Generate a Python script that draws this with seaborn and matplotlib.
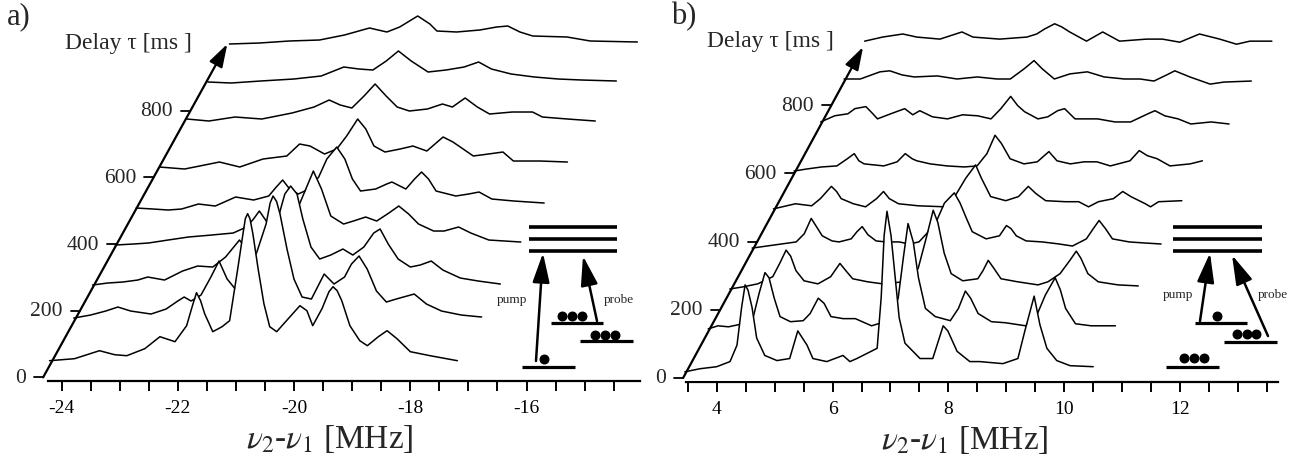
import numpy as np
import matplotlib
matplotlib.use("Agg")
import matplotlib.pyplot as plt
import seaborn as sns
from matplotlib.patches import FancyArrowPatch

# ---------------- data ----------------
# delays (ms) of the spectra, front to back
delays_a = [50, 178, 277, 397, 508, 631, 775, 886, 1000]
delays_b = [18, 144, 261, 381, 496, 607, 751, 877, 988]

# spectra: (frequency of front trace frame [MHz], signal [ms-equivalent units])
a0 = [(-24.21,0),(-23.78,6),(-23.35,30),(-23.09,18),(-22.88,15),(-22.57,36),(-22.31,72),(-22.05,57),(-21.85,105),(-21.75,165),(-21.68,204),(-21.61,180),(-21.54,141),(-21.40,87),(-21.24,102),(-21.11,120),(-20.97,276),(-20.88,381),(-20.84,426),(-20.80,441),(-20.76,426),(-20.71,381),(-20.62,276),(-20.52,171),(-20.42,102),(-20.30,87),(-20.07,132),(-19.90,165),(-19.78,150),(-19.68,105),(-19.52,156),(-19.40,207),(-19.33,222),(-19.26,210),(-19.18,180),(-19.04,105),(-18.87,60),(-18.74,45),(-18.55,72),(-18.40,90),(-18.23,66),(-18.00,27),(-17.66,15),(-17.19,0)]
a1 = [(-24.21,0),(-23.92,9),(-23.66,21),(-23.45,33),(-23.23,21),(-22.88,12),(-22.62,27),(-22.42,51),(-22.31,63),(-22.19,51),(-22.02,69),(-21.85,123),(-21.71,171),(-21.57,117),(-21.43,87),(-21.24,111),(-21.07,192),(-20.90,282),(-20.83,345),(-20.78,366),(-20.72,350),(-20.66,312),(-20.54,207),(-20.42,117),(-20.28,63),(-20.12,57),(-19.90,132),(-19.73,102),(-19.55,123),(-19.43,162),(-19.30,186),(-19.16,147),(-19.00,81),(-18.83,48),(-18.66,57),(-18.35,72),(-18.14,42),(-17.88,21),(-17.54,9),(-17.19,3)]
a2 = [(-24.21,0),(-23.95,6),(-23.69,9),(-23.43,15),(-23.26,24),(-22.97,15),(-22.66,42),(-22.40,57),(-22.14,54),(-21.92,84),(-21.68,135),(-21.50,93),(-21.33,72),(-21.16,114),(-21.02,198),(-20.90,273),(-20.80,297),(-20.69,273),(-20.59,198),(-20.45,114),(-20.30,78),(-20.11,90),(-19.90,108),(-19.73,90),(-19.54,114),(-19.37,156),(-19.26,168),(-19.12,123),(-18.95,78),(-18.74,54),(-18.57,60),(-18.38,72),(-18.18,45),(-17.88,21),(-17.57,12),(-17.19,3)]
a3 = [(-24.21,0),(-23.90,3),(-23.64,6),(-23.30,15),(-22.95,24),(-22.55,30),(-22.18,36),(-21.95,54),(-21.83,78),(-21.73,102),(-21.61,72),(-21.47,42),(-21.28,48),(-21.11,93),(-20.93,168),(-20.80,222),(-20.66,168),(-20.50,87),(-20.28,63),(-20.11,72),(-19.90,84),(-19.71,72),(-19.50,96),(-19.33,117),(-19.16,93),(-18.99,63),(-18.73,42),(-18.55,42),(-18.30,54),(-18.09,36),(-17.78,15),(-17.23,9)]
a4 = [(-24.21,0),(-23.92,-3),(-23.66,-6),(-23.43,-3),(-23.14,12),(-22.85,6),(-22.50,33),(-22.19,24),(-21.93,36),(-21.80,63),(-21.69,84),(-21.57,57),(-21.42,42),(-21.24,57),(-21.07,93),(-20.93,147),(-20.76,183),(-20.62,147),(-20.49,87),(-20.35,51),(-20.09,57),(-19.90,72),(-19.81,78),(-19.57,57),(-19.42,87),(-19.30,108),(-19.18,87),(-19.05,51),(-18.71,36),(-18.49,42),(-18.31,48),(-18.09,27),(-17.71,21),(-17.19,15)]
a5 = [(-24.21,0),(-23.78,-6),(-23.52,3),(-23.18,15),(-22.83,0),(-22.43,24),(-22.02,33),(-21.80,69),(-21.62,63),(-21.37,39),(-21.16,54),(-20.99,93),(-20.80,144),(-20.66,114),(-20.52,63),(-20.33,45),(-20.07,54),(-19.85,63),(-19.61,48),(-19.33,90),(-19.16,75),(-18.81,33),(-18.55,39),(-18.30,45),(-18.12,18),(-17.66,18),(-17.19,15)]
a6 = [(-24.21,0),(-23.83,-6),(-23.38,6),(-22.92,0),(-22.40,18),(-22.02,36),(-21.76,57),(-21.57,42),(-21.37,33),(-21.16,69),(-20.97,105),(-20.78,69),(-20.59,36),(-20.38,24),(-20.07,30),(-19.81,45),(-19.64,36),(-19.42,63),(-19.21,36),(-19.00,15),(-18.61,21),(-18.26,21),(-18.09,6),(-17.66,0),(-17.18,-6)]
a7 = [(-24.21,0),(-23.81,-3),(-23.30,3),(-22.73,9),(-22.26,18),(-21.87,45),(-21.61,39),(-21.37,36),(-21.14,63),(-20.93,93),(-20.71,63),(-20.42,30),(-20.11,36),(-19.80,45),(-19.55,60),(-19.33,39),(-18.99,24),(-18.59,15),(-18.18,9),(-17.78,6),(-17.18,3)]
a8 = [(-24.21,0),(-23.69,3),(-23.18,9),(-22.66,12),(-22.23,27),(-21.80,48),(-21.50,36),(-21.28,51),(-20.97,84),(-20.76,60),(-20.64,39),(-20.30,36),(-19.90,42),(-19.61,51),(-19.42,54),(-19.21,36),(-18.99,24),(-18.40,21),(-18.00,9),(-17.19,6)]

b0 = [(3.45,0),(3.71,9),(4.00,15),(4.23,30),(4.35,78),(4.43,189),(4.49,255),(4.54,240),(4.61,189),(4.69,99),(4.83,48),(5.04,33),(5.26,39),(5.40,120),(5.56,78),(5.66,39),(5.90,30),(6.18,48),(6.30,30),(6.42,39),(6.77,69),(6.84,219),(6.89,399),(6.94,471),(7.01,399),(7.08,279),(7.15,159),(7.25,84),(7.51,39),(7.73,39),(7.91,135),(7.99,120),(8.15,60),(8.37,30),(8.54,30),(8.94,24),(9.20,39),(9.32,120),(9.48,222),(9.58,138),(9.70,69),(9.87,33),(10.10,18),(10.50,15)]
b1 = [(3.45,0),(3.62,9),(3.80,6),(4.05,15),(4.23,36),(4.33,105),(4.43,165),(4.50,150),(4.59,90),(4.69,36),(4.87,21),(5.09,24),(5.21,45),(5.35,90),(5.45,75),(5.57,36),(5.78,30),(5.99,30),(6.27,9),(6.56,24),(6.73,90),(6.82,210),(6.90,309),(6.99,255),(7.08,150),(7.20,60),(7.37,36),(7.63,24),(7.77,60),(7.89,111),(7.98,90),(8.11,45),(8.34,21),(8.58,18),(8.93,9),(9.12,39),(9.27,99),(9.44,150),(9.53,114),(9.62,60),(9.79,15),(10.06,9),(10.48,9)]
b2 = [(3.45,0),(3.67,6),(3.93,15),(4.19,36),(4.31,75),(4.42,114),(4.50,96),(4.59,54),(4.73,24),(4.97,15),(5.19,36),(5.35,75),(5.45,54),(5.57,30),(5.83,21),(6.09,15),(6.44,21),(6.70,60),(6.84,150),(6.96,231),(7.04,195),(7.15,105),(7.27,45),(7.47,24),(7.73,30),(7.82,54),(7.91,84),(8.01,60),(8.13,30),(8.42,21),(8.77,12),(8.94,21),(9.15,45),(9.32,84),(9.43,111),(9.51,90),(9.63,45),(9.81,21),(10.15,12),(10.50,9)]
b3 = [(3.45,0),(3.83,9),(4.21,18),(4.35,42),(4.47,87),(4.56,63),(4.66,36),(4.83,21),(4.95,18),(5.16,27),(5.26,48),(5.35,63),(5.45,39),(5.59,21),(5.76,18),(5.99,18),(6.16,12),(6.33,18),(6.51,51),(6.63,78),(6.77,132),(6.94,162),(7.04,132),(7.15,87),(7.25,48),(7.49,27),(7.72,36),(7.84,66),(7.92,57),(8.01,36),(8.18,21),(8.46,18),(8.75,12),(8.98,6),(9.22,27),(9.34,57),(9.44,81),(9.55,57),(9.67,27),(9.96,18),(10.22,15),(10.51,12)]
b4 = [(3.45,0),(3.83,15),(4.11,9),(4.26,30),(4.45,66),(4.54,51),(4.62,30),(4.83,15),(5.04,6),(5.23,30),(5.35,51),(5.45,30),(5.61,15),(5.95,9),(6.42,6),(6.59,39),(6.77,90),(6.94,129),(7.04,90),(7.20,36),(7.46,24),(7.68,36),(7.85,66),(7.98,45),(8.15,24),(8.49,21),(8.72,21),(8.89,6),(9.06,21),(9.32,30),(9.48,51),(9.62,36),(9.87,15),(9.96,6),(10.10,21),(10.50,24)]
b5 = [(3.45,0),(3.67,6),(3.93,12),(4.19,15),(4.37,36),(4.49,51),(4.57,30),(4.66,21),(5.00,15),(5.23,27),(5.37,51),(5.49,36),(5.57,30),(5.80,21),(6.09,15),(6.39,12),(6.61,15),(6.78,51),(6.92,105),(7.03,81),(7.18,36),(7.42,21),(7.65,27),(7.85,57),(7.99,30),(8.22,21),(8.46,27),(8.68,27),(8.91,15),(9.25,30),(9.41,60),(9.55,45),(9.72,36),(9.94,15),(10.29,21),(10.50,30)]
b6 = [(3.45,0),(3.69,18),(3.92,24),(4.04,39),(4.23,45),(4.35,24),(4.43,9),(4.66,24),(4.90,39),(5.04,21),(5.16,33),(5.38,15),(5.64,9),(5.90,21),(6.16,18),(6.39,9),(6.56,39),(6.73,75),(6.85,48),(6.97,30),(7.20,9),(7.37,15),(7.54,33),(7.66,39),(7.84,9),(8.23,9),(8.53,0),(8.80,0),(9.10,24),(9.22,33),(9.39,18),(9.62,9),(9.84,-6),(10.19,0),(10.50,-6)]
b7 = [(3.45,0),(3.73,0),(4.07,21),(4.24,24),(4.45,12),(4.66,6),(5.06,9),(5.40,0),(5.75,6),(6.09,0),(6.32,0),(6.56,30),(6.73,54),(6.87,30),(7.08,0),(7.35,15),(7.65,21),(7.94,6),(8.29,0),(8.56,0),(8.80,-6),(9.02,12),(9.16,24),(9.42,6),(9.77,-15),(10.01,-9),(10.48,-6)]
b8 = [(3.45,0),(3.76,12),(4.11,21),(4.35,12),(4.75,6),(5.13,27),(5.32,12),(5.78,6),(6.25,12),(6.42,21),(6.56,36),(6.73,51),(6.85,42),(6.99,27),(7.28,0),(7.56,27),(7.85,0),(8.32,6),(8.59,6),(8.89,-3),(9.23,21),(9.58,6),(9.87,-9),(10.10,0),(10.48,0)]

traces_a = [a0, a1, a2, a3, a4, a5, a6, a7, a8]
traces_b = [b0, b1, b2, b3, b4, b5, b6, b7, b8]

xticks_a = [-24, -22, -20, -18, -16]
xticks_b = [4, 6, 8, 10, 12]
delay_ticks = [0, 200, 400, 600, 800]

# ---------------- style ----------------
sns.set_style("white")
plt.rcParams["font.family"] = ["Liberation Serif", "DejaVu Serif"]
plt.rcParams["mathtext.fontset"] = "stix"
plt.rcParams["axes.unicode_minus"] = False

W, H = 1307, 460
fig = plt.figure(figsize=(W / 100, H / 100), dpi=100)


def px_axes(x0, x1, ybot, ytop):
    return fig.add_axes([x0 / W, (H - ybot) / H, (x1 - x0) / W, (ybot - ytop) / H])


def draw_panel(ax, traces, delays, shift, xlim, ylim, diag_bot, diag_top,
               major, minor, xlabel_x):
    ax.set_xlim(xlim)
    ax.set_ylim(ylim)
    n = len(traces)
    for i in reversed(range(n)):
        f = np.array([p[0] for p in traces[i]])
        s = np.array([p[1] for p in traces[i]])
        x = f + shift * (delays[i] - delays[0])
        y = delays[i] + s
        z = 3 + 2 * (n - i)
        ax.fill_between(x, y, delays[i] - 25, color="white", lw=0, zorder=z,
                        clip_on=False)
        sns.lineplot(x=x, y=y, ax=ax, color="black", lw=1.1, zorder=z + 1,
                     sort=False, estimator=None, legend=False, clip_on=False)
    # delay axis (diagonal arrow)
    ax.annotate("", xy=diag_top, xytext=diag_bot,
                arrowprops=dict(arrowstyle="-|>,head_length=0.7,head_width=0.22",
                                color="black", lw=1.6, mutation_scale=20,
                                shrinkA=0, shrinkB=0),
                annotation_clip=False, zorder=60)
    slope = (diag_top[0] - diag_bot[0]) / (diag_top[1] - diag_bot[1])
    for t in delay_ticks:
        xd = diag_bot[0] + slope * (t - diag_bot[1])
        ax.plot([xd - 0.16, xd], [t, t], color="black", lw=1.3,
                clip_on=False, zorder=60)
        ax.text(xd - 0.30, t, str(t), ha="right", va="center", fontsize=15.5,
                zorder=60)
    for sp in ["top", "right", "left"]:
        ax.spines[sp].set_visible(False)
    ax.spines["bottom"].set_linewidth(1.6)
    ax.spines["bottom"].set_color("black")
    ax.set_yticks([])
    ax.set_xticks(major)
    ax.set_xticks(minor, minor=True)
    ax.set_xticklabels([str(v) for v in major])
    ax.tick_params(axis="x", which="both", bottom=True, direction="out",
                   length=7.5, width=1.4, colors="black", labelsize=14, pad=6)
    ax.set_xlabel(r"$\nu_2$-$\nu_1$ [MHz]", fontsize=24)
    ax.xaxis.set_label_coords(xlabel_x, -0.115)
    ax.set_facecolor("none")
    ax.grid(False)


axA = px_axes(48, 640, 381.7, 20)
draw_panel(axA, traces_a, delays_a, 0.00326, (-24.236, -14.047), (-10, 1075),
           (-24.32, 0), (-21.15, 1000), xticks_a,
           list(np.arange(-24, -14.4, 0.5)), 0.476)

axB = px_axes(686, 1278, 382.7, 20)
draw_panel(axB, traces_b, delays_b, 0.0032, (3.47, 13.69), (-11, 1053),
           (3.42, 0), (6.527, 971), xticks_b,
           list(np.arange(3.5, 13.6, 0.5)), 0.471)

# ---------------- overlay: labels and level diagrams ----------------
ov = fig.add_axes([0, 0, 1, 1], zorder=50)
ov.set_xlim(0, W)
ov.set_ylim(H, 0)
ov.axis("off")
ov.patch.set_alpha(0)

ov.text(7, 17, "a)", fontsize=22, ha="left", va="center")
ov.text(671, 17, "b)", fontsize=22, ha="left", va="center")
ov.text(65, 43, "Delay τ [ms ]", fontsize=17, ha="left", va="center")
ov.text(707, 41, "Delay τ [ms ]", fontsize=17, ha="left", va="center")


def arrow(p0, p1):
    ov.add_patch(FancyArrowPatch(p0, p1,
                 arrowstyle="-|>,head_length=0.9,head_width=0.26",
                 mutation_scale=20, lw=1.8, color="black",
                 shrinkA=0, shrinkB=0))


def diagram(top, lows, dots, pump, probe, pump_lbl, probe_lbl):
    for y in (228, 240, 252):
        ov.plot(top, [y, y], color="black", lw=2.6, solid_capstyle="butt")
    for (x0, x1, y) in lows:
        ov.plot([x0, x1], [y, y], color="black", lw=2.3, solid_capstyle="butt")
    ov.scatter([d[0] for d in dots], [d[1] for d in dots], s=38, color="black",
               zorder=5)
    arrow(*pump)
    arrow(*probe)
    ov.text(*pump_lbl, "pump", fontsize=9.5, ha="center", va="center")
    ov.text(*probe_lbl, "probe", fontsize=9.5, ha="center", va="center")


diagram([529, 617],
        [(551, 603, 324), (580, 633, 342), (522, 575, 368)],
        [(562, 317), (572, 317), (582, 317), (595, 336), (605, 336), (615, 336),
         (544, 360)],
        ((536, 362), (543, 254)), ((597, 322), (583, 257)),
        (512, 300), (619, 300))

diagram([1173, 1262],
        [(1195, 1247, 324), (1224, 1277, 343), (1166, 1219, 368)],
        [(1217, 317), (1237, 335), (1247, 335), (1256, 335), (1184, 359),
         (1194, 359), (1204, 359)],
        ((1200, 322), (1210, 254)), ((1268, 337), (1232, 256)),
        (1178, 295), (1273, 295))

fig.savefig("out.png", dpi=100)
